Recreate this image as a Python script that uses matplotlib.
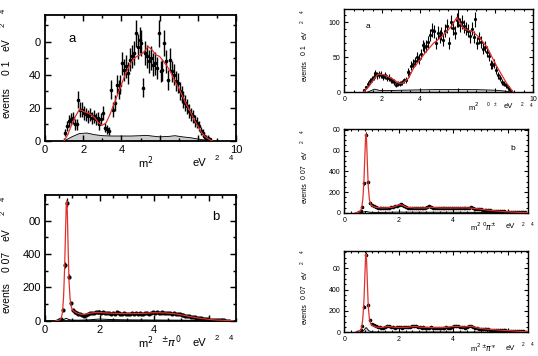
import numpy as np
import matplotlib
matplotlib.use("Agg")
from matplotlib import pyplot as plt

plt.rcParams['font.family'] = ['Liberation Sans', 'DejaVu Sans']

W, H = 538, 356

# ---- left panel a / right panel a: 0.1 GeV^2 bins ----
la_x0 = 1.05
la_vals = [5, 9, 12, 13, 14, 10, 10, 25, 19, 19,
           17, 16, 15, 16, 14, 15, 13, 14, 10, 13,
           17, 8, 7, 6, 31, 19, 23, 34, 31, 34,
           47, 43, 45, 41, 49, 51, 53, 65, 57, 61,
           59, 32, 53, 51, 48, 50, 46, 47, 44, 65,
           42, 43, 59, 48, 37, 49, 42, 40, 36, 35,
           30, 28, 25, 23, 21, 18, 16, 15, 12, 11,
           9, 6, 5, 3, 2, 2, 1]
la_err = [2.2, 3, 3.5, 3.6, 3.7, 3.2, 3.2, 5, 4.4, 4.4,
          4.1, 4, 3.9, 4, 3.7, 3.9, 3.6, 3.7, 3.2, 3.6,
          4.1, 2.8, 2.6, 2.4, 5.6, 4.4, 4.8, 5.8, 5.6, 5.8,
          6.9, 6.6, 6.7, 6.4, 7, 7.1, 7.3, 8.1, 7.5, 7.8,
          7.7, 5.7, 7.3, 7.1, 6.9, 7.1, 6.8, 6.9, 6.6, 8.1,
          6.5, 6.6, 7.7, 6.9, 6.1, 7, 6.5, 6.3, 6, 5.9,
          5.5, 5.3, 5, 4.8, 4.6, 4.2, 4, 3.9, 3.5, 3.3,
          3, 2.4, 2.2, 1.7, 1.4, 1.4, 1]
la_fit_x = [1.0, 1.2, 1.4, 1.6, 1.8, 2.0, 2.2, 2.4, 2.6, 2.8, 3.0, 3.2, 3.4, 3.6, 3.8,
            4.0, 4.2, 4.4, 4.6, 4.8, 5.0, 5.2, 5.4, 5.6, 5.8, 6.0, 6.2, 6.4, 6.6, 6.8,
            7.0, 7.2, 7.4, 7.6, 7.8, 8.0, 8.2, 8.4, 8.6, 8.75]
la_fit_y = [0, 4, 10, 15, 19, 18, 17, 16, 14, 11, 9.5, 11, 16, 22, 28,
            34, 40, 45, 49, 51, 52, 54, 57, 55, 52, 51, 48, 45, 41, 36,
            32, 27, 22, 18, 13, 9, 5, 2.5, 1, 0]
la_bg_x = [1.0, 1.4, 1.8, 2.2, 2.6, 3.0, 3.5, 4.0, 4.5, 5.0, 5.3, 5.6, 6.0, 6.5, 6.8, 7.2, 7.6, 8.0, 8.4, 8.7]
la_bg_y = [0, 2.5, 4.5, 4.8, 3.8, 3.2, 3.0, 3.0, 3.0, 3.2, 3.4, 3.0, 2.5, 2.8, 3.2, 2.5, 2.0, 1.2, 0.5, 0]

ra_x0 = 1.05
ra_vals = [3, 7, 12, 16, 19, 22, 27, 24, 26, 25,
           22, 24, 20, 21, 18, 17, 15, 11, 13, 12,
           14, 17, 18, 29, 27, 38, 41, 44, 50, 48,
           55, 67, 64, 66, 72, 82, 89, 87, 70, 85,
           80, 84, 75, 88, 95, 70, 100, 92, 85, 103,
           104, 96, 100, 94, 91, 88, 80, 91, 79, 104,
           70, 78, 72, 62, 65, 58, 52, 40, 39, 41,
           32, 24, 20, 15, 12, 10, 7, 5, 2]
ra_err = [1.7, 2.6, 3.5, 4, 4.4, 4.7, 5.2, 4.9, 5.1, 5,
          4.7, 4.9, 4.5, 4.6, 4.2, 4.1, 3.9, 3.3, 3.6, 3.5,
          3.7, 4.1, 4.2, 5.4, 5.2, 6.2, 6.4, 6.6, 7.1, 6.9,
          7.4, 8.2, 8, 8.1, 8.5, 9.1, 9.4, 9.3, 8.4, 9.2,
          8.9, 9.2, 8.7, 9.4, 9.7, 8.4, 10, 9.6, 9.2, 10.1,
          10.2, 9.8, 10, 9.7, 9.5, 9.4, 8.9, 9.5, 8.9, 10.2,
          8.4, 8.8, 8.5, 7.9, 8.1, 7.6, 7.2, 6.3, 6.2, 6.4,
          5.7, 4.9, 4.5, 3.9, 3.5, 3.2, 2.6, 2.2, 1.4]
ra_fit_x = [1.0, 1.3, 1.6, 1.8, 2.1, 2.5, 2.9, 3.1, 3.4, 3.66, 4.0, 4.3, 4.72, 5.1,
            5.43, 5.7, 5.96, 6.31, 6.84, 7.2, 7.55, 8.08, 8.6, 8.96]
ra_fit_y = [0, 8, 20, 26, 25, 20, 13, 13, 20, 34, 46, 57, 70, 78,
            87, 95, 107, 91, 86, 77, 65, 37, 13, 0]
ra_bg_x = [1.2, 1.6, 1.9, 2.5, 3.0, 4.0, 5.0, 6.0, 7.0, 8.0, 8.6, 8.9]
ra_bg_y = [0, 4.5, 2.5, 2.5, 3.0, 3.5, 4.0, 4.0, 3.8, 3.0, 1.5, 0]

# ---- panels b: 0.07 GeV^2 bins ----
b_x0 = 0.455
b_w = 0.07
lb_vals = [0, 2, 10, 64, 334, 708, 264, 104, 62, 50,
           44, 40, 38, 33, 30, 36, 40, 44, 45, 48,
           52, 50, 54, 48, 50, 45, 48, 44, 42, 46,
           38, 50, 44, 40, 42, 44, 40, 42, 38, 44,
           42, 46, 40, 44, 42, 40, 44, 46, 42, 48,
           50, 46, 52, 48, 44, 50, 46, 48, 44, 46,
           42, 45, 40, 42, 38, 36, 34, 30, 28, 26,
           24, 22, 20, 18, 16, 14, 12, 11, 10, 8,
           7, 6, 5, 4, 3, 3, 2, 2, 1, 1, 0]
lb_err = [0.5, 1.4, 3.2, 8, 18, 26.6, 16, 10, 7.9, 7.1,
          6.6, 6.3, 6.2, 5.7, 5.5, 6, 6.3, 6.6, 6.7, 6.9,
          7.2, 7.1, 7.3, 6.9, 7.1, 6.7, 6.9, 6.6, 6.5, 6.8,
          6.2, 7.1, 6.6, 6.3, 6.5, 6.6, 6.3, 6.5, 6.2, 6.6,
          6.5, 6.8, 6.3, 6.6, 6.5, 6.3, 6.6, 6.8, 6.5, 6.9,
          7.1, 6.8, 7.2, 6.9, 6.6, 7.1, 6.8, 6.9, 6.6, 6.8,
          6.5, 6.7, 6.3, 6.5, 6.2, 6, 5.8, 5.5, 5.3, 5.1,
          4.9, 4.7, 4.5, 4.2, 4, 3.7, 3.5, 3.3, 3.2, 2.8,
          2.6, 2.4, 2.2, 2, 1.7, 1.7, 1.4, 1.4, 1, 1, 0.5]
lb_fit_x = [0.40, 0.50, 0.55, 0.60, 0.64, 0.68, 0.72, 0.75, 0.78, 0.80, 0.82, 0.85, 0.88,
            0.92, 0.96, 1.00, 1.10, 1.20, 1.35, 1.50, 1.70, 1.90, 2.10, 2.40, 2.80, 3.20,
            3.60, 4.00, 4.40, 4.80, 5.10, 5.40, 5.70, 6.00, 6.30, 6.60, 6.90]
lb_fit_y = [0, 2, 6, 18, 50, 140, 320, 520, 700, 720, 640, 420, 240,
            130, 85, 65, 52, 44, 38, 40, 46, 50, 48, 45, 43, 43,
            44, 48, 47, 41, 32, 22, 14, 8, 4, 2, 0]
lb_bg_x = [0.45, 0.60, 0.70, 0.78, 0.86, 0.95, 1.2, 1.6, 2.0, 2.4, 3.0, 4.0, 5.0, 6.0, 6.8]
lb_bg_y = [0, 2, 8, 14, 8, 4, 3, 5, 10, 7, 5, 4, 3, 1, 0]

rb_vals = [0, 3, 12, 58, 284, 750, 294, 90, 70, 62,
           55, 50, 48, 45, 44, 46, 48, 50, 52, 55,
           60, 65, 78, 82, 75, 60, 52, 48, 46, 44,
           45, 46, 44, 48, 50, 46, 44, 52, 60, 55,
           50, 48, 46, 45, 44, 46, 45, 44, 46, 45,
           44, 46, 48, 46, 45, 44, 46, 48, 50, 46,
           52, 44, 40, 36, 34, 32, 30, 28, 26, 24,
           22, 20, 18, 16, 15, 14, 13, 12, 11, 10,
           9, 8, 7, 6, 5, 4, 3, 2, 2, 1]
rb_err = [0.5, 1.7, 3.5, 7.6, 17, 27.4, 17, 9.5, 8.4, 7.9,
          7.4, 7.1, 6.9, 6.7, 6.6, 6.8, 6.9, 7.1, 7.2, 7.4,
          7.7, 8.1, 8.8, 9, 8.7, 7.7, 7.2, 6.9, 6.8, 6.6,
          6.7, 6.8, 6.6, 6.9, 7.1, 6.8, 6.6, 7.2, 7.7, 7.4,
          7.1, 6.9, 6.8, 6.7, 6.6, 6.8, 6.7, 6.6, 6.8, 6.7,
          6.6, 6.8, 6.9, 6.8, 6.7, 6.6, 6.8, 6.9, 7.1, 6.8,
          7.2, 6.6, 6.3, 6, 5.8, 5.7, 5.5, 5.3, 5.1, 4.9,
          4.7, 4.5, 4.2, 4, 3.9, 3.7, 3.6, 3.5, 3.3, 3.2,
          3, 2.8, 2.6, 2.4, 2.2, 2, 1.7, 1.4, 1.4, 1]
rb_fit_x = [0.40, 0.50, 0.55, 0.60, 0.64, 0.68, 0.72, 0.75, 0.78, 0.80, 0.82, 0.85, 0.88,
            0.92, 0.96, 1.00, 1.10, 1.20, 1.40, 1.60, 1.80, 1.95, 2.05, 2.15, 2.30, 2.60,
            3.00, 3.20, 3.50, 4.00, 4.50, 4.80, 5.10, 5.40, 5.70, 6.00, 6.30, 6.60, 6.73]
rb_fit_y = [0, 3, 8, 20, 50, 130, 300, 520, 720, 760, 680, 450, 250,
            130, 85, 68, 56, 50, 46, 48, 55, 70, 78, 70, 52, 46,
            46, 52, 46, 46, 47, 40, 30, 21, 14, 9, 5, 2, 1]
rb_bg_x = [0.45, 0.6, 0.7, 0.8, 0.9, 1.0, 1.5, 2.0, 2.2, 3.0, 4.0, 5.0, 6.0, 6.73]
rb_bg_y = [0, 2, 6, 12, 6, 3, 3, 6, 5, 4, 4, 3, 1, 0]

rc_vals = [0, 4, 20, 60, 240, 726, 256, 115, 75, 65,
           55, 50, 46, 44, 45, 48, 55, 60, 52, 48,
           45, 46, 48, 47, 45, 46, 48, 46, 50, 55,
           62, 58, 50, 46, 44, 46, 45, 43, 44, 46,
           44, 43, 45, 44, 42, 43, 44, 46, 45, 44,
           50, 55, 60, 58, 52, 48, 46, 45, 50, 58,
           62, 50, 40, 36, 34, 32, 31, 30, 28, 27,
           26, 25, 24, 22, 21, 20, 19, 18, 17, 16,
           15, 14, 13, 12, 11, 10, 9, 8, 6, 4]
rc_err = [0.5, 2, 4.5, 7.7, 15.5, 27, 16, 10.7, 8.7, 8.1,
          7.4, 7.1, 6.8, 6.6, 6.7, 6.9, 7.4, 7.7, 7.2, 6.9,
          6.7, 6.8, 6.9, 6.9, 6.7, 6.8, 6.9, 6.8, 7.1, 7.4,
          7.9, 7.6, 7.1, 6.8, 6.6, 6.8, 6.7, 6.6, 6.6, 6.8,
          6.6, 6.6, 6.7, 6.6, 6.5, 6.6, 6.6, 6.8, 6.7, 6.6,
          7.1, 7.4, 7.7, 7.6, 7.2, 6.9, 6.8, 6.7, 7.1, 7.6,
          7.9, 7.1, 6.3, 6, 5.8, 5.7, 5.6, 5.5, 5.3, 5.2,
          5.1, 5, 4.9, 4.7, 4.6, 4.5, 4.4, 4.2, 4.1, 4,
          3.9, 3.7, 3.6, 3.5, 3.3, 3.2, 3, 2.8, 2.4, 2]
rc_fit_x = [0.40, 0.50, 0.55, 0.60, 0.64, 0.68, 0.72, 0.75, 0.78, 0.80, 0.82, 0.85, 0.88,
            0.92, 0.96, 1.00, 1.10, 1.20, 1.40, 1.60, 1.80, 2.00, 2.30, 2.60, 2.80, 3.20,
            3.60, 4.00, 4.20, 4.40, 4.65, 4.90, 5.20, 5.50, 5.80, 6.10, 6.40, 6.73]
rc_fit_y = [0, 3, 8, 20, 50, 130, 290, 500, 700, 735, 660, 440, 240,
            130, 85, 68, 55, 48, 46, 56, 48, 46, 47, 56, 48, 44,
            44, 54, 56, 50, 58, 40, 30, 24, 19, 15, 10, 4]
rc_bg_x = [0.45, 0.6, 0.7, 0.8, 0.9, 1.0, 1.5, 2.0, 3.0, 4.0, 5.0, 6.0, 6.73]
rc_bg_y = [0, 3, 15, 45, 15, 4, 3, 3, 3, 3, 2, 1, 0]

RED = '#e0302a'

fig = plt.figure(figsize=(W / 100, H / 100), dpi=100)


def box(l, t, r, b):
    return [l / W, 1 - b / H, (r - l) / W, (b - t) / H]


def ftext(x, y, s, size, **kw):
    fig.text(x / W, 1 - y / H, s, fontsize=size, ha='center', va='center', **kw)


def style(ax, xlim, ylim, xt, xl, xminor, yt, yl, yminor, fs, lw):
    ax.set_xlim(*xlim)
    ax.set_ylim(*ylim)
    ax.set_xticks(xt)
    ax.set_xticklabels(xl)
    ax.set_xticks(np.arange(0, xlim[1] + 1e-6, xminor), minor=True)
    ax.set_yticks(yt)
    ax.set_yticklabels(yl)
    ax.set_yticks(np.arange(0, ylim[1] + 1e-6, yminor), minor=True)
    ax.tick_params(which='both', direction='in', top=True, right=True, labelsize=fs, width=lw * 0.8, pad=3)
    ax.tick_params(which='major', length=4 if fs > 6 else 3)
    ax.tick_params(which='minor', length=2 if fs > 6 else 1.5)
    for s in ax.spines.values():
        s.set_linewidth(lw)


def draw(ax, x, vals, err, fx, fy, bgx, bgy, ms, elw, fill):
    if fill:
        ax.fill_between(bgx, bgy, color='#cdcdcd', zorder=1)
        ax.plot(bgx, bgy, color='black', lw=0.6, zorder=2)
    else:
        ax.plot(bgx, bgy, color='black', lw=0.7, zorder=2)
    ax.errorbar(x, vals, yerr=err, fmt='o', color='black', ms=ms, elinewidth=elw, capsize=0, zorder=3)
    ax.plot(fx, fy, color=RED, lw=0.9, zorder=4)


# left a
ax = fig.add_axes(box(45, 15, 236, 141))
x = la_x0 + 0.1 * np.arange(len(la_vals))
draw(ax, x, la_vals, la_err, la_fit_x, la_fit_y, la_bg_x, la_bg_y, 1.6, 1.0, True)
style(ax, (0, 10), (0, 76), [0, 2, 4, 6, 8, 10], ['0', '2', '4', '', '', '10'], 1,
      [0, 20, 40, 60], ['0', '20', '40', '0'], 10, 8, 1.3)

# left b
ax = fig.add_axes(box(45, 195, 236, 320.7))
x = b_x0 + b_w * np.arange(len(lb_vals))
draw(ax, x, lb_vals, lb_err, lb_fit_x, lb_fit_y, lb_bg_x, lb_bg_y, 2.0, 0.9, False)
style(ax, (0, 7), (0, 755), [0, 2, 4, 6], ['0', '2', '4', ''], 0.5,
      [0, 200, 400, 600], ['0', '200', '400', '00'], 100, 8, 1.3)

# right a
ax = fig.add_axes(box(344.3, 9, 533, 92.3))
x = ra_x0 + 0.1 * np.arange(len(ra_vals))
draw(ax, x, ra_vals, ra_err, ra_fit_x, ra_fit_y, ra_bg_x, ra_bg_y, 1.3, 0.8, True)
style(ax, (0, 10), (0, 119), [0, 2, 4, 6, 8, 10], ['0', '2', '4', '', '', '10'], 0.5,
      [0, 50, 100], ['0', '50', '100'], 10, 5, 1.0)

# right b
ax = fig.add_axes(box(344.3, 129.3, 527.7, 212.7))
x = b_x0 + b_w * np.arange(len(rb_vals))
draw(ax, x, rb_vals, rb_err, rb_fit_x, rb_fit_y, rb_bg_x, rb_bg_y, 1.6, 0.7, False)
style(ax, (0, 6.73), (0, 806), [0, 2, 4, 6], ['0', '2', '4', ''], 0.25,
      [0, 200, 400, 600, 800], ['0', '200', '400', '00', '00'], 50, 5, 1.0)

# right c
ax = fig.add_axes(box(344.3, 250.7, 527.7, 332.3))
x = b_x0 + b_w * np.arange(len(rc_vals))
draw(ax, x, rc_vals, rc_err, rc_fit_x, rc_fit_y, rc_bg_x, rc_bg_y, 1.6, 0.7, True)
style(ax, (0, 6.73), (0, 766), [0, 2, 4, 6], ['0', '2', '4', ''], 0.25,
      [0, 200, 400, 600], ['0', '200', '400', '00'], 50, 5, 1.0)

# panel letters
ftext(72, 39, 'a', 9.5)
ftext(216, 217, 'b', 9.5)
ftext(368, 26, 'a', 6)
ftext(513, 148, 'b', 6)

# y labels (rotated pieces)
r = dict(rotation=90)
ftext(7, 103, 'events', 7.5, **r)
ftext(7, 68, '0 1', 7.5, **r)
ftext(7, 45, 'eV', 7.5, **r)
ftext(3, 25, '2', 5.5, **r)
ftext(3, 11, '4', 5.5, **r)

ftext(7, 298, 'events', 7.5, **r)
ftext(7, 262, '0 07', 7.5, **r)
ftext(7, 235, 'eV', 7.5, **r)
ftext(3, 213, '2', 5.5, **r)
ftext(3, 199, '4', 5.5, **r)

ftext(305, 71, 'events', 5, **r)
ftext(305, 50, '0 1', 5, **r)
ftext(305, 35, 'eV', 5, **r)
ftext(302, 22, '2', 3.5, **r)
ftext(302, 12, '4', 3.5, **r)

ftext(305, 193, 'events', 5, **r)
ftext(305, 172, '0 07', 5, **r)
ftext(305, 155, 'eV', 5, **r)
ftext(302, 142, '2', 3.5, **r)
ftext(302, 132, '4', 3.5, **r)

ftext(305, 314, 'events', 5, **r)
ftext(305, 292, '0 07', 5, **r)
ftext(305, 275, 'eV', 5, **r)
ftext(302, 263, '2', 3.5, **r)
ftext(302, 252, '4', 3.5, **r)

# x labels
ftext(146, 163, r'm$^2$', 8)
ftext(199, 163, 'eV', 8)
ftext(217, 159, '2', 5.5)
ftext(231, 159, '4', 5.5)

ftext(146, 343, r'm$^2$', 8)
ftext(171, 342, r'$^{\pm}\pi^{0}$', 8)
ftext(199, 343, 'eV', 8)
ftext(217, 338, '2', 5.5)
ftext(231, 338, '4', 5.5)

ftext(474, 107, r'm$^2$', 5.5)
ftext(488, 104, '0', 3.5)
ftext(495, 104, '±', 3.5)
ftext(508, 107, 'eV', 5.5)
ftext(522, 105, '2', 3.5)
ftext(531, 106, '4', 3.5)

ftext(476, 227, r'm$^2$', 5.5)
ftext(489, 227, r'$^{0}\pi^{\pm}$', 5.5)
ftext(510, 227, 'eV', 5.5)
ftext(523, 224, '2', 3.5)
ftext(532, 224, '4', 3.5)

ftext(476, 348, r'm$^2$', 5.5)
ftext(489, 348, r'$^{\pm}\pi^{\mp}$', 5.5)
ftext(510, 348, 'eV', 5.5)
ftext(523, 345, '2', 3.5)
ftext(532, 345, '4', 3.5)

fig.savefig('out.png', dpi=100)
